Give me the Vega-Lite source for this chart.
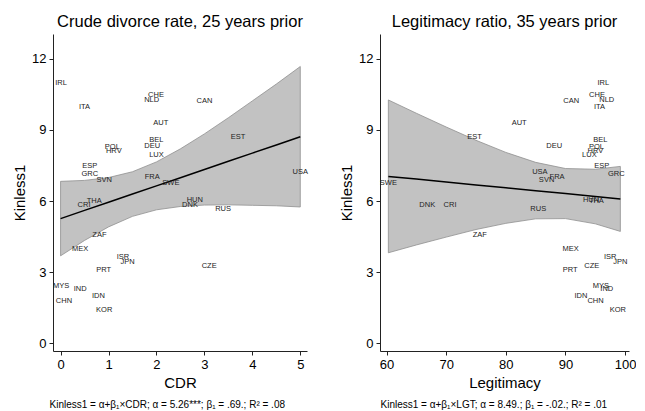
{
  "$schema": "https://vega.github.io/schema/vega-lite/v6.json",
  "padding": {"left": 12, "top": 13, "right": 0, "bottom": 0},
  "spacing": 31,
  "config": {
    "font": "Liberation Sans",
    "view": {"stroke": null},
    "axis": {"grid": false, "domainColor": "#222", "tickColor": "#222", "labelColor": "#000", "titleColor": "#000", "labelFontSize": 13, "titleFontSize": 15, "titleFontWeight": "normal", "tickSize": 4, "labelPadding": 3, "labelFont": "Liberation Sans", "titleFont": "Liberation Sans"},
    "title": {"fontSize": 16.5, "fontWeight": "normal", "font": "Liberation Sans", "color": "#000"}
  },
  "datasets": {
    "pts": [
      {"country": "IRL", "cdr": 0.01, "lgt": 96.33, "kin": 10.98},
      {"country": "ITA", "cdr": 0.50, "lgt": 95.71, "kin": 9.97},
      {"country": "CHE", "cdr": 1.99, "lgt": 95.29, "kin": 10.48},
      {"country": "NLD", "cdr": 1.90, "lgt": 96.92, "kin": 10.27},
      {"country": "AUT", "cdr": 2.09, "lgt": 82.23, "kin": 9.27},
      {"country": "BEL", "cdr": 2.00, "lgt": 95.85, "kin": 8.59},
      {"country": "DEU", "cdr": 1.91, "lgt": 88.12, "kin": 8.31},
      {"country": "LUX", "cdr": 2.00, "lgt": 94.00, "kin": 7.92},
      {"country": "POL", "cdr": 1.08, "lgt": 95.18, "kin": 8.28},
      {"country": "HRV", "cdr": 1.11, "lgt": 95.01, "kin": 8.13},
      {"country": "ESP", "cdr": 0.61, "lgt": 96.08, "kin": 7.47},
      {"country": "GRC", "cdr": 0.61, "lgt": 98.51, "kin": 7.16},
      {"country": "SVN", "cdr": 0.91, "lgt": 86.83, "kin": 6.89},
      {"country": "FRA", "cdr": 1.91, "lgt": 88.59, "kin": 7.03},
      {"country": "SWE", "cdr": 2.30, "lgt": 60.30, "kin": 6.78},
      {"country": "CAN", "cdr": 3.00, "lgt": 90.97, "kin": 10.21},
      {"country": "EST", "cdr": 3.70, "lgt": 74.74, "kin": 8.70},
      {"country": "USA", "cdr": 5.00, "lgt": 85.71, "kin": 7.23},
      {"country": "CRI", "cdr": 0.49, "lgt": 70.64, "kin": 5.82},
      {"country": "THA", "cdr": 0.70, "lgt": 95.18, "kin": 6.00},
      {"country": "ZAF", "cdr": 0.81, "lgt": 75.64, "kin": 4.57},
      {"country": "MEX", "cdr": 0.41, "lgt": 90.85, "kin": 3.98},
      {"country": "ISR", "cdr": 1.30, "lgt": 97.50, "kin": 3.66},
      {"country": "JPN", "cdr": 1.40, "lgt": 99.20, "kin": 3.41},
      {"country": "PRT", "cdr": 0.90, "lgt": 90.77, "kin": 3.08},
      {"country": "MYS", "cdr": 0.01, "lgt": 95.93, "kin": 2.41},
      {"country": "IND", "cdr": 0.41, "lgt": 96.92, "kin": 2.31},
      {"country": "IDN", "cdr": 0.79, "lgt": 92.58, "kin": 1.98},
      {"country": "CHN", "cdr": 0.07, "lgt": 95.04, "kin": 1.77},
      {"country": "KOR", "cdr": 0.91, "lgt": 98.78, "kin": 1.39},
      {"country": "HUN", "cdr": 2.80, "lgt": 94.29, "kin": 6.03},
      {"country": "DNK", "cdr": 2.70, "lgt": 66.82, "kin": 5.85},
      {"country": "RUS", "cdr": 3.39, "lgt": 85.44, "kin": 5.67},
      {"country": "CZE", "cdr": 3.10, "lgt": 94.40, "kin": 3.28}
    ],
    "bandL": [
      {"x": 0, "fit": 5.26, "lo": 3.69, "hi": 6.83},
      {"x": 0.5, "fit": 5.605, "lo": 4.34, "hi": 6.87},
      {"x": 1, "fit": 5.95, "lo": 4.91, "hi": 6.99},
      {"x": 1.5, "fit": 6.295, "lo": 5.355, "hi": 7.235},
      {"x": 2, "fit": 6.64, "lo": 5.63, "hi": 7.65},
      {"x": 2.5, "fit": 6.985, "lo": 5.77, "hi": 8.2},
      {"x": 3, "fit": 7.33, "lo": 5.83, "hi": 8.83},
      {"x": 3.5, "fit": 7.675, "lo": 5.84, "hi": 9.51},
      {"x": 4, "fit": 8.02, "lo": 5.82, "hi": 10.22},
      {"x": 4.5, "fit": 8.365, "lo": 5.8, "hi": 10.93},
      {"x": 5, "fit": 8.71, "lo": 5.75, "hi": 11.67}
    ],
    "bandR": [
      {"x": 60.3, "fit": 7.039, "lo": 3.82, "hi": 10.26},
      {"x": 65, "fit": 6.924, "lo": 4.15, "hi": 9.7},
      {"x": 70, "fit": 6.802, "lo": 4.48, "hi": 9.12},
      {"x": 75, "fit": 6.68, "lo": 4.8, "hi": 8.56},
      {"x": 80, "fit": 6.558, "lo": 5.06, "hi": 8.05},
      {"x": 85, "fit": 6.436, "lo": 5.25, "hi": 7.63},
      {"x": 90, "fit": 6.314, "lo": 5.26, "hi": 7.37},
      {"x": 95, "fit": 6.192, "lo": 5.04, "hi": 7.34},
      {"x": 99.2, "fit": 6.09, "lo": 4.72, "hi": 7.46}
    ]
  },
  "hconcat": [
    {
      "title": {"text": "Kinless1 = α+β₁×CDR; α = 5.26***; β₁ = .69.; R² = .08", "orient": "bottom", "anchor": "start", "fontSize": 10, "dx": 37, "offset": 10},
      "hconcat": [
        {
          "title": {"text": "Crude divorce rate, 25 years prior"},
          "width": 254,
          "height": 317,
          "layer": [
            {
              "data": {"name": "bandL"},
              "mark": {"type": "area", "fill": "#c2c2c2", "stroke": "#8f8f8f", "strokeWidth": 0.8},
              "encoding": {
                "x": {"field": "x", "type": "quantitative", "scale": {"domain": [-0.158, 5.14], "nice": false, "zero": false}, "axis": {"values": [0, 1, 2, 3, 4, 5], "title": "CDR"}},
                "y": {"field": "lo", "type": "quantitative", "scale": {"domain": [-0.32, 13.04], "nice": false, "zero": false}, "axis": {"values": [0, 3, 6, 9, 12], "title": "Kinless1"}},
                "y2": {"field": "hi"}
              }
            },
            {
              "data": {"name": "bandL"},
              "mark": {"type": "line", "color": "#000", "strokeWidth": 1.5},
              "encoding": {
                "x": {"field": "x", "type": "quantitative"},
                "y": {"field": "fit", "type": "quantitative"}
              }
            },
            {
              "data": {"name": "pts"},
              "mark": {"type": "text", "fontSize": 7.5, "align": "center", "baseline": "middle", "fill": "#222"},
              "encoding": {
                "x": {"field": "cdr", "type": "quantitative"},
                "y": {"field": "kin", "type": "quantitative"},
                "text": {"field": "country"}
              }
            }
          ]
        }
      ]
    },
    {
      "title": {"text": "Kinless1 = α+β₁×LGT; α = 8.49.; β₁ = -.02.; R² = .01", "orient": "bottom", "anchor": "start", "fontSize": 10, "dx": 41, "offset": 10},
      "hconcat": [
        {
          "title": {"text": "Legitimacy ratio, 35 years prior"},
          "width": 249,
          "height": 317,
          "layer": [
            {
              "data": {"name": "bandR"},
              "mark": {"type": "area", "fill": "#c2c2c2", "stroke": "#8f8f8f", "strokeWidth": 0.8},
              "encoding": {
                "x": {"field": "x", "type": "quantitative", "scale": {"domain": [58.9, 100.65], "nice": false, "zero": false}, "axis": {"values": [60, 70, 80, 90, 100], "title": "Legitimacy"}},
                "y": {"field": "lo", "type": "quantitative", "scale": {"domain": [-0.32, 13.04], "nice": false, "zero": false}, "axis": {"values": [0, 3, 6, 9, 12], "title": "Kinless1"}},
                "y2": {"field": "hi"}
              }
            },
            {
              "data": {"name": "bandR"},
              "mark": {"type": "line", "color": "#000", "strokeWidth": 1.5},
              "encoding": {
                "x": {"field": "x", "type": "quantitative"},
                "y": {"field": "fit", "type": "quantitative"}
              }
            },
            {
              "data": {"name": "pts"},
              "mark": {"type": "text", "fontSize": 7.5, "align": "center", "baseline": "middle", "fill": "#222"},
              "encoding": {
                "x": {"field": "lgt", "type": "quantitative"},
                "y": {"field": "kin", "type": "quantitative"},
                "text": {"field": "country"}
              }
            }
          ]
        }
      ]
    }
  ]
}
